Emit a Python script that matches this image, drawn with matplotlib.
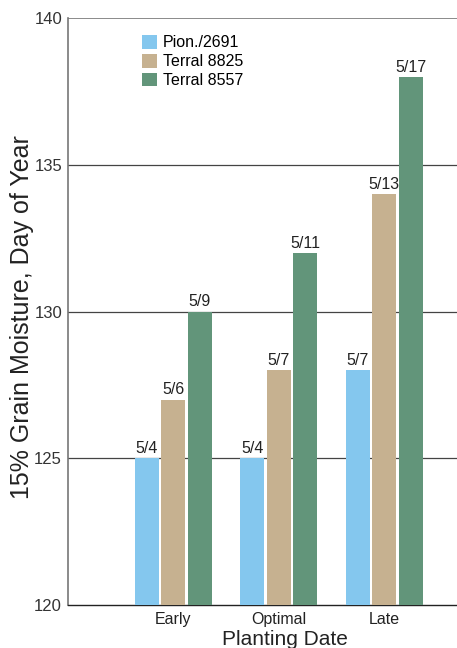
import matplotlib
matplotlib.use("Agg")
import matplotlib.pyplot as plt
import numpy as np

plt.rcParams['font.family'] = ['Liberation Sans', 'DejaVu Sans']

categories = ['Early', 'Optimal', 'Late']
series_names = ['Pion./2691', 'Terral 8825', 'Terral 8557']
pion = [125, 125, 128]
terral_8825 = [127, 128, 134]
terral_8557 = [130, 132, 138]
pion_labels = ['5/4', '5/4', '5/7']
t8825_labels = ['5/6', '5/7', '5/13']
t8557_labels = ['5/9', '5/11', '5/17']
yticks = [120, 125, 130, 135, 140]

colors = ['#84C7EE', '#C6B190', '#62957A']

W, H = 457, 648
fig = plt.figure(figsize=(W/100, H/100), dpi=100)
ax = fig.add_axes([68/W, 1-605/H, 389/W, (605-18)/H])

x = np.arange(len(categories))
width = 0.228
offset = 0.251
allvals = [pion, terral_8825, terral_8557]
alllabels = [pion_labels, t8825_labels, t8557_labels]
for i, (vals, labs) in enumerate(zip(allvals, alllabels)):
    xs = x + (i - 1) * offset
    ax.bar(xs, np.array(vals) - 120, width=width, bottom=120,
           color=colors[i], label=series_names[i], zorder=3)
    for xi, v, l in zip(xs, vals, labs):
        ax.text(xi, v + 0.07, l, ha='center', va='bottom', fontsize=11.5,
                color='#222222', zorder=4)

ax.set_ylim(120, 140)
ax.set_xlim(-1.0, 2.69)
ax.set_yticks(yticks)
ax.set_yticklabels([str(t) for t in yticks], fontsize=12, color='#333333')
ax.tick_params(axis='y', length=0, pad=4.3)
ax.tick_params(axis='x', length=0, pad=5)
ax.set_xticks(x)
ax.set_xticklabels(categories, fontsize=11.5, color='#222222')

for t in [125, 130, 135]:
    ax.axhline(t, color='#444444', lw=0.9, zorder=1)
ax.axhline(140, color='#777777', lw=1.2, zorder=1)

ax.spines['top'].set_visible(False)
ax.spines['right'].set_visible(False)
ax.spines['left'].set_color('#777777')
ax.spines['left'].set_linewidth(1.2)
ax.spines['bottom'].set_color('#222222')
ax.spines['bottom'].set_linewidth(1.0)

fig.text(22/W, 1-317/H, '15% Grain Moisture, Day of Year', rotation=90,
         ha='center', va='center', fontsize=18, color='#222222')
fig.text(285/W, 1-645/H, 'Planting Date', ha='center', va='baseline',
         fontsize=15, color='#222222')

leg = ax.legend(loc='upper left', bbox_to_anchor=((142-68)/389, (605-35)/587),
                frameon=False, fontsize=11.5, handlelength=0.94, handleheight=0.94,
                handletextpad=0.35, labelspacing=0.22, borderpad=0, borderaxespad=0)

fig.savefig('out.png', dpi=100)
